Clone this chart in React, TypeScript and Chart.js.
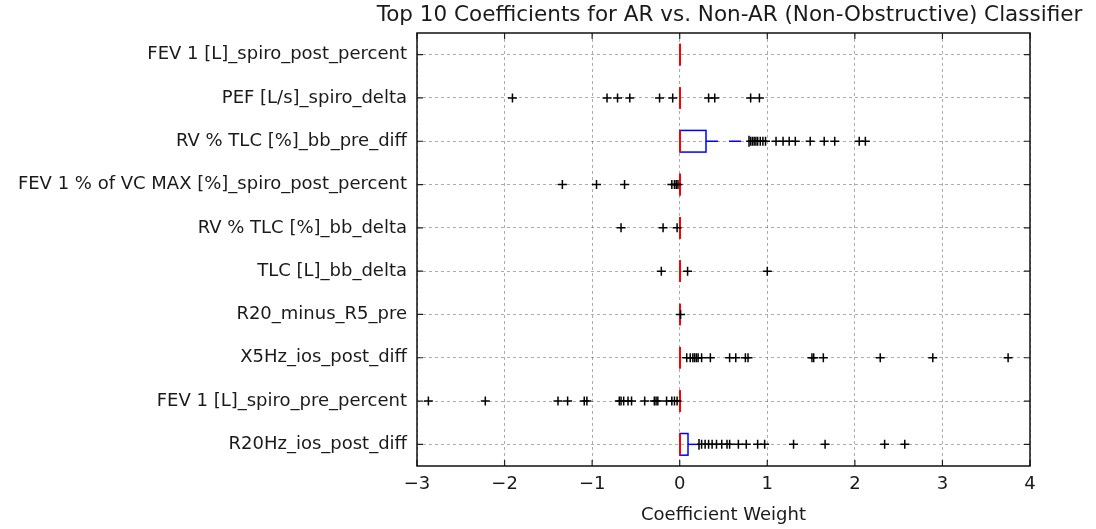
import { useEffect, useRef } from "react";
import { Chart, registerables } from "chart.js";

Chart.register(...registerables);

const titleText = "Top 10 Coefficients for AR vs. Non-AR (Non-Obstructive) Classifier";
const xAxisTitle = "Coefficient Weight";

// Features, listed top to bottom
const categories = [
  "FEV 1 [L]_spiro_post_percent",
  "PEF [L/s]_spiro_delta",
  "RV % TLC [%]_bb_pre_diff",
  "FEV 1 % of VC MAX [%]_spiro_post_percent",
  "RV % TLC [%]_bb_delta",
  "TLC [L]_bb_delta",
  "R20_minus_R5_pre",
  "X5Hz_ios_post_diff",
  "FEV 1 [L]_spiro_pre_percent",
  "R20Hz_ios_post_diff",
];

// Box statistics per feature
const q1 = [0, 0, 0, 0, 0, 0, 0, 0, 0, 0];
const medians = [0, 0, 0, 0, 0, 0, 0, 0, 0, 0];
const q3 = [0, 0, 0.3, 0, 0, 0, 0, 0, 0, 0.09];
const whiskerLow = [0, 0, 0, 0, 0, 0, 0, 0, 0, 0];
const whiskerHigh = [0, 0, 0.79, 0, 0, 0, 0, 0, 0, 0.22];

// Fliers per feature
const outliers: number[][] = [
  [],
  [-1.91, -0.83, -0.71, -0.57, -0.23, -0.08, 0.33, 0.4, 0.81, 0.91],
  [0.81, 0.83, 0.85, 0.87, 0.89, 0.92, 0.95, 0.98, 1.1, 1.18, 1.25, 1.32, 1.49, 1.65, 1.77, 2.05, 2.12],
  [-1.34, -0.95, -0.63, -0.09, -0.06, -0.04, -0.02],
  [-0.67, -0.19, -0.03],
  [-0.21, 0.09, 1.0],
  [0.01],
  [0.08, 0.12, 0.15, 0.17, 0.19, 0.21, 0.25, 0.35, 0.57, 0.64, 0.75, 0.78, 1.51, 1.53, 1.64, 2.29, 2.89, 3.75],
  [-2.87, -2.22, -1.39, -1.28, -1.09, -1.06, -0.69, -0.67, -0.64, -0.59, -0.55, -0.4, -0.29, -0.27, -0.25, -0.15, -0.09, -0.06, -0.03],
  [0.25, 0.29, 0.33, 0.37, 0.42, 0.48, 0.54, 0.57, 0.67, 0.76, 0.89, 0.97, 1.3, 1.66, 2.34, 2.57],
];

const xTicks = [-3, -2, -1, 0, 1, 2, 3, 4];

const FONT = "DejaVu Sans";
const TEXT = "#1a1a1a";

const boxPlugin = {
  id: "boxes",
  beforeDatasetsDraw(chart: any) {
    const { ctx } = chart;
    const x = chart.scales.x;
    const y = chart.scales.y;
    const half = Math.abs(y.getPixelForValue(1.25) - y.getPixelForValue(1));
    const px = (v: number) => Math.round(x.getPixelForValue(v));
    const seg = (x1: number, y1: number, x2: number, y2: number) => {
      ctx.beginPath();
      ctx.moveTo(x1, y1);
      ctx.lineTo(x2, y2);
      ctx.stroke();
    };
    ctx.save();
    categories.forEach((_, i) => {
      const yc = y.getPixelForValue(i + 1);
      const xq1 = px(q1[i]);
      const xq3 = px(q3[i]);
      const xlo = px(whiskerLow[i]);
      const xhi = px(whiskerHigh[i]);
      const xmed = px(medians[i]);
      ctx.lineWidth = 1.5;
      // whiskers
      ctx.strokeStyle = "#0000ff";
      ctx.setLineDash([12, 11]);
      seg(xq1, yc, xlo, yc);
      seg(xq3, yc, xhi, yc);
      ctx.setLineDash([]);
      // caps
      ctx.strokeStyle = "#000000";
      seg(xlo, yc - half / 2, xlo, yc + half / 2);
      seg(xhi, yc - half / 2, xhi, yc + half / 2);
      // box
      ctx.strokeStyle = "#0000ff";
      ctx.strokeRect(xq1, yc - half, xq3 - xq1, 2 * half);
      // median
      ctx.strokeStyle = "#ff0000";
      ctx.lineWidth = 2;
      seg(xmed, yc - half, xmed, yc + half);
    });
    ctx.restore();
  },
  afterDraw(chart: any) {
    const { ctx, chartArea: ca } = chart;
    const x = chart.scales.x;
    const y = chart.scales.y;
    ctx.save();
    // inward ticks on all four sides
    ctx.strokeStyle = "#222";
    ctx.lineWidth = 1.2;
    const tl = 6;
    ctx.beginPath();
    xTicks.forEach((v) => {
      const p = x.getPixelForValue(v);
      ctx.moveTo(p, ca.bottom);
      ctx.lineTo(p, ca.bottom - tl);
      ctx.moveTo(p, ca.top);
      ctx.lineTo(p, ca.top + tl);
    });
    categories.forEach((_, i) => {
      const p = y.getPixelForValue(i + 1);
      ctx.moveTo(ca.left, p);
      ctx.lineTo(ca.left + tl, p);
      ctx.moveTo(ca.right, p);
      ctx.lineTo(ca.right - tl, p);
    });
    ctx.stroke();
    // frame
    ctx.strokeStyle = "#111";
    ctx.lineWidth = 1.5;
    ctx.strokeRect(ca.left, ca.top, ca.right - ca.left, ca.bottom - ca.top);
    // title above the plot area
    ctx.fillStyle = TEXT;
    ctx.font = `21.5px "${FONT}"`;
    ctx.textAlign = "center";
    ctx.textBaseline = "middle";
    ctx.fillText(titleText, (ca.left + ca.right) / 2 + 6, 15);
    ctx.restore();
  },
};

export default function App() {
  const canvasRef = useRef<HTMLCanvasElement | null>(null);

  useEffect(() => {
    if (!canvasRef.current) return;
    const chart = new Chart(canvasRef.current, {
      type: "scatter",
      data: {
        datasets: outliers.map((vals, i) => ({
          label: categories[i],
          data: vals.map((v) => ({ x: v, y: i + 1 })),
          showLine: false,
          pointStyle: "cross",
          pointRadius: 4.5,
          pointBorderWidth: 1.5,
          borderColor: "#000000",
          backgroundColor: "#000000",
        })),
      },
      options: {
        responsive: false,
        animation: false,
        events: [],
        layout: { padding: { left: 0, right: 66, top: 33, bottom: 0 } },
        plugins: {
          legend: { display: false },
          tooltip: { enabled: false },
          title: { display: false },
        },
        scales: {
          x: {
            type: "linear",
            min: -3,
            max: 4,
            afterBuildTicks: (s: any) => {
              s.ticks = xTicks.map((v) => ({ value: v }));
            },
            afterFit: (s: any) => {
              s.height = 63;
            },
            ticks: {
              color: TEXT,
              font: { family: FONT, size: 18 },
              padding: 8,
              maxRotation: 0,
              callback: (v: any) => (Number(v) < 0 ? "\u2212" + Math.abs(Number(v)) : String(v)),
            },
            grid: { color: "rgba(0,0,0,0.32)", lineWidth: 1, drawTicks: false },
            border: { display: false, dash: [3, 3] },
            title: {
              display: true,
              text: xAxisTitle,
              color: TEXT,
              font: { family: FONT, size: 18 },
              padding: { top: 0, bottom: 3 },
            },
          },
          y: {
            type: "linear",
            min: 0.5,
            max: 10.5,
            reverse: true,
            afterBuildTicks: (s: any) => {
              s.ticks = categories.map((_, i) => ({ value: i + 1 }));
            },
            afterFit: (s: any) => {
              s.width = 417;
            },
            ticks: {
              autoSkip: false,
              color: TEXT,
              font: { family: FONT, size: 18 },
              padding: 10,
              callback: (v: any) => categories[Number(v) - 1] ?? "",
            },
            grid: { color: "rgba(0,0,0,0.32)", lineWidth: 1, drawTicks: false },
            border: { display: false, dash: [3, 3] },
          },
        },
      },
      plugins: [boxPlugin],
    } as any);
    return () => chart.destroy();
  }, []);

  return (
    <div style={{ position: "absolute", left: 0, top: 0, width: 1096, height: 529, background: "#fff" }}>
      <canvas ref={canvasRef} width={1096} height={529} />
    </div>
  );
}
